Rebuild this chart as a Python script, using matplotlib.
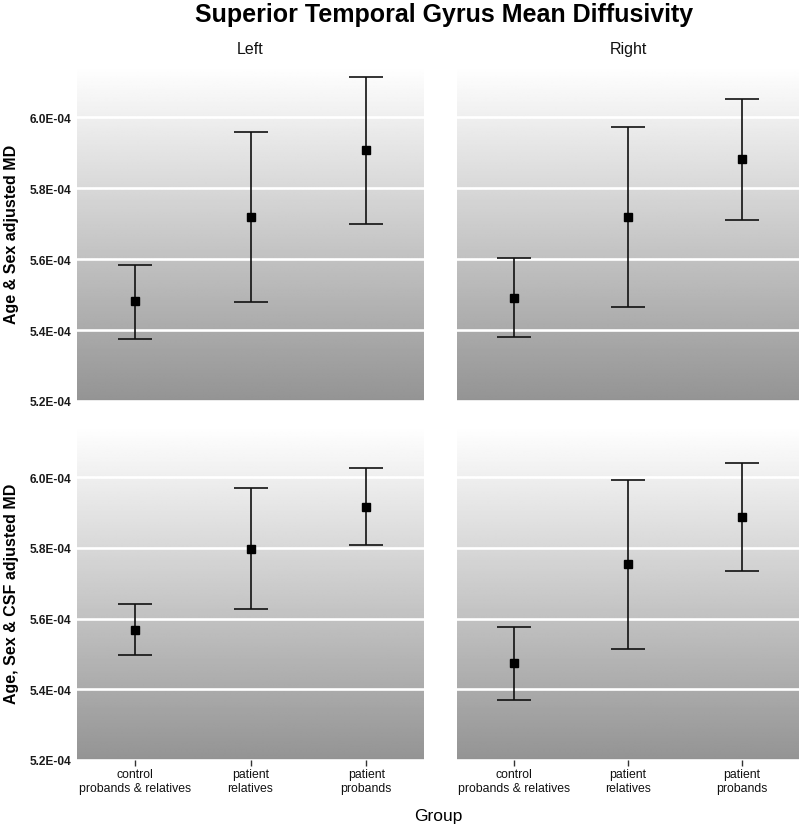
import numpy as np
import matplotlib
matplotlib.use("Agg")
import matplotlib.pyplot as plt
from matplotlib.ticker import FuncFormatter

plt.rcParams['font.family'] = ['Liberation Sans', 'DejaVu Sans']

groups = ["control\nprobands & relatives", "patient\nrelatives", "patient\nprobands"]
sides = ["Left", "Right"]
row_labels = ["Age & Sex adjusted MD", "Age, Sex & CSF adjusted MD"]

# Age & Sex adjusted (row 1)
left_as_mean = [5.482e-4, 5.718e-4, 5.907e-4]
left_as_low = [5.376e-4, 5.479e-4, 5.700e-4]
left_as_high = [5.585e-4, 5.958e-4, 6.114e-4]
right_as_mean = [5.491e-4, 5.718e-4, 5.883e-4]
right_as_low = [5.380e-4, 5.464e-4, 5.711e-4]
right_as_high = [5.602e-4, 5.974e-4, 6.051e-4]

# Age, Sex & CSF adjusted (row 2)
left_csf_mean = [5.569e-4, 5.798e-4, 5.917e-4]
left_csf_low = [5.496e-4, 5.627e-4, 5.808e-4]
left_csf_high = [5.640e-4, 5.969e-4, 6.025e-4]
right_csf_mean = [5.474e-4, 5.754e-4, 5.888e-4]
right_csf_low = [5.369e-4, 5.513e-4, 5.734e-4]
right_csf_high = [5.577e-4, 5.993e-4, 6.041e-4]

y_ticks = [5.2e-4, 5.4e-4, 5.6e-4, 5.8e-4, 6.0e-4]
y_min, y_max = 5.2e-4, 6.145e-4

panels = [
    [(left_as_mean, left_as_low, left_as_high), (right_as_mean, right_as_low, right_as_high)],
    [(left_csf_mean, left_csf_low, left_csf_high), (right_csf_mean, right_csf_low, right_csf_high)],
]

W, H = 800, 828
fig = plt.figure(figsize=(W / 100, H / 100), dpi=100)

col_x = [(77, 424), (457, 799)]
row_y = [(67, 402), (427, 761)]

grad = np.linspace(0.58, 1.0, 256).reshape(-1, 1)
fmt = FuncFormatter(lambda v, p: f"{v * 1e4:.1f}E-04")

for r in range(2):
    for c in range(2):
        x0, x1 = col_x[c]
        yt, yb = row_y[r]
        ax = fig.add_axes([x0 / W, 1 - yb / H, (x1 - x0) / W, (yb - yt) / H])
        ax.imshow(grad, cmap='gray', vmin=0, vmax=1, origin='lower', aspect='auto',
                  extent=[0.5, 3.5, y_min, y_max], zorder=0, interpolation='bilinear')
        for yv in y_ticks:
            ax.axhline(yv, color='white', lw=1.9, zorder=1)
        mean, low, high = panels[r][c]
        xs = np.arange(1, len(groups) + 1)
        mean = np.array(mean); low = np.array(low); high = np.array(high)
        ax.errorbar(xs, mean, yerr=[mean - low, high - mean], fmt='s', color='black',
                    ecolor='#111111', elinewidth=1.2, capsize=12.3, capthick=1.2,
                    markersize=5.2, zorder=3)
        ax.set_xlim(0.5, 3.5)
        ax.set_ylim(y_min, y_max)
        ax.set_yticks(y_ticks)
        ax.yaxis.set_major_formatter(fmt)
        for s in ax.spines.values():
            s.set_visible(False)
        ax.tick_params(axis='y', length=0, pad=4)
        if c == 0:
            for lab in ax.get_yticklabels():
                lab.set_fontsize(8.6)
                lab.set_fontweight('bold')
                lab.set_color('#1a1a1a')
        else:
            ax.set_yticklabels([])
        ax.set_xticks(xs)
        if r == 1:
            ax.set_xticklabels(groups, fontsize=8.8, color='#111111', linespacing=1.15)
            ax.tick_params(axis='x', length=4, width=1, color='#333333', pad=2)
        else:
            ax.set_xticklabels([])
            ax.tick_params(axis='x', length=0)
        if r == 0:
            ax.text(0.5, 1 + 17 / (yb - yt), sides[c], transform=ax.transAxes,
                    ha='center', va='center', fontsize=11.5, color='#111111')

fig.text(444 / W, 1 - 15 / H, "Superior Temporal Gyrus Mean Diffusivity",
         ha='center', va='center', fontsize=18, fontweight='bold')
fig.text(12 / W, 1 - 234 / H, row_labels[0], rotation=90, ha='center', va='center',
         fontsize=11.5, fontweight='bold')
fig.text(12 / W, 1 - 594 / H, row_labels[1], rotation=90, ha='center', va='center',
         fontsize=11.5, fontweight='bold')
fig.text(438 / W, 1 - 817 / H, "Group", ha='center', va='center', fontsize=12.5)

fig.savefig("out.png", dpi=100, facecolor='white')
